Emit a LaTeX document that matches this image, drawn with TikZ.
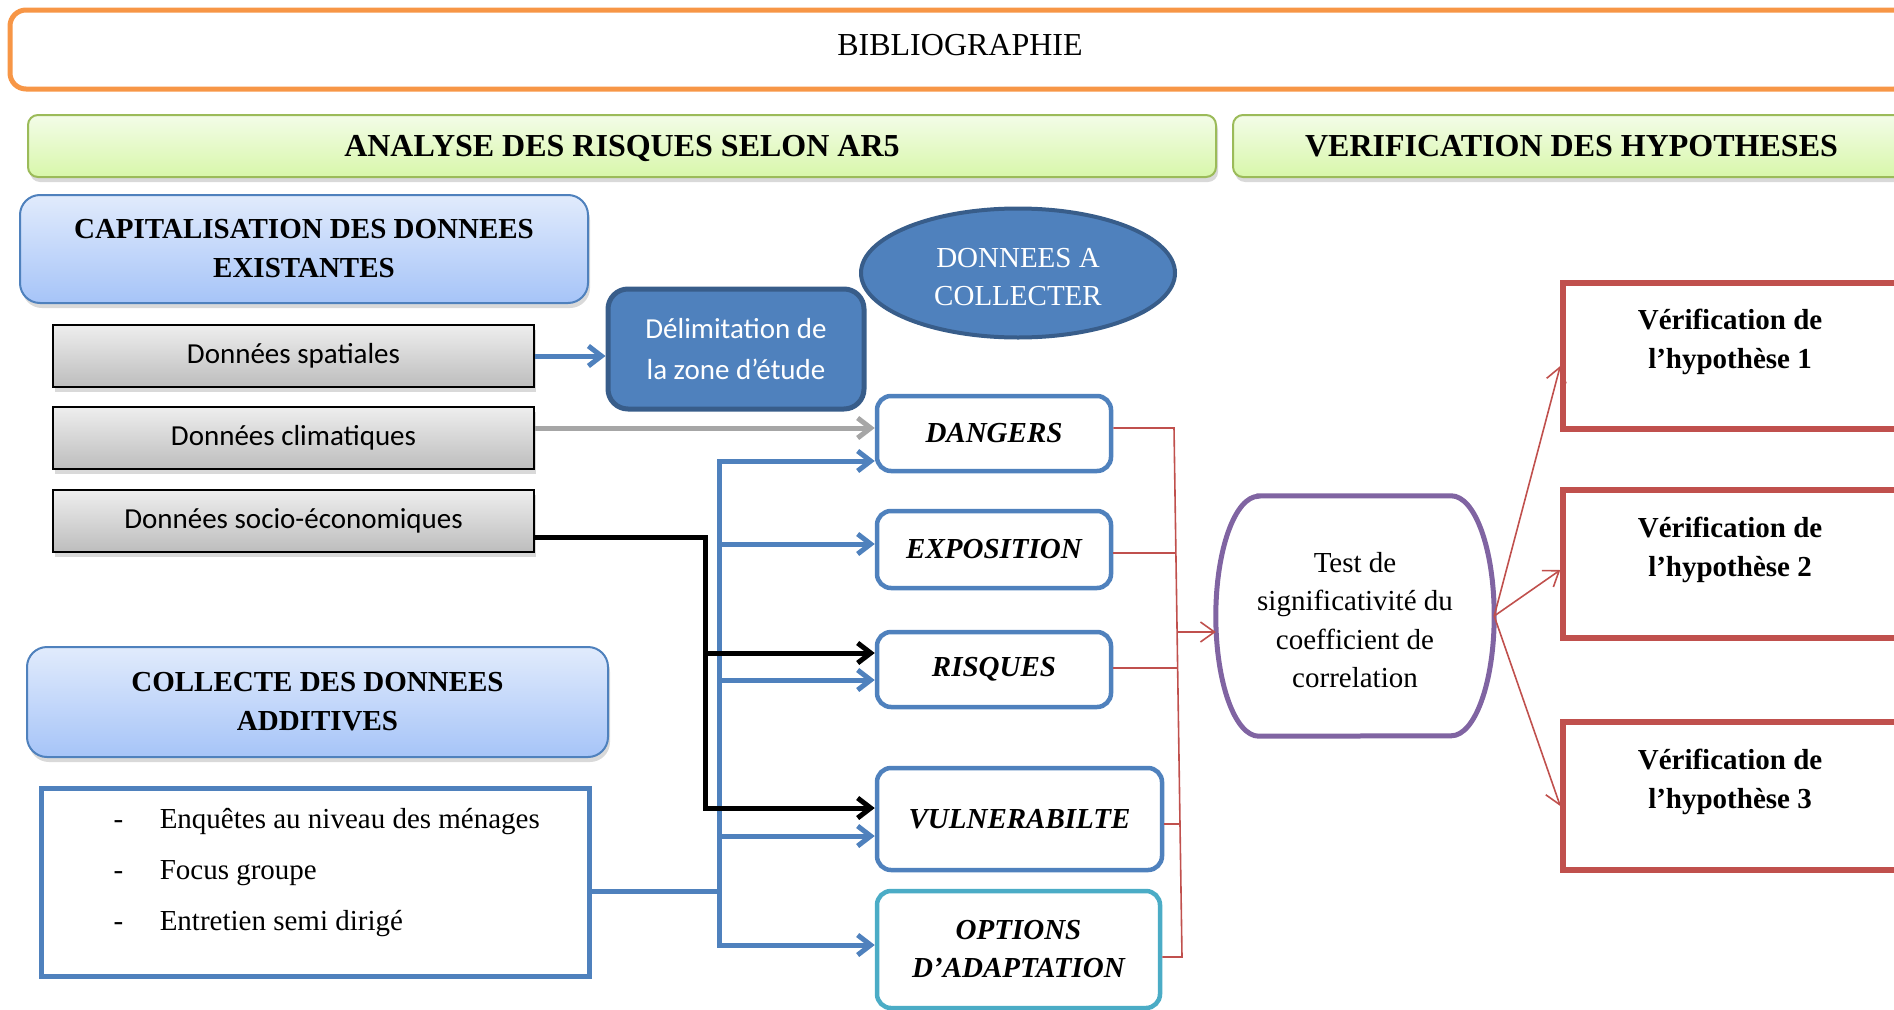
\documentclass[tikz,border=0pt]{standalone}
\usepackage{fontspec}
\setmainfont{Liberation Serif}
\newfontfamily\calibrifont{Carlito}
\usetikzlibrary{arrows.meta,shapes.geometric,shadows}

\definecolor{accblue}{HTML}{4F81BD}
\definecolor{darkblue}{HTML}{385D8A}
\definecolor{accorange}{HTML}{F79646}
\definecolor{accgreen}{HTML}{9BBB59}
\definecolor{accred}{HTML}{C0504D}
\definecolor{accpurple}{HTML}{8064A2}
\definecolor{acccyan}{HTML}{4BACC6}
\definecolor{grline}{HTML}{A6A6A6}
\definecolor{greentop}{HTML}{F3FCE8}
\definecolor{greenbot}{HTML}{D8F7AA}
\definecolor{bluetop}{HTML}{E1EBFC}
\definecolor{bluebot}{HTML}{A6C4F8}
\definecolor{graytop}{HTML}{EEEEEE}
\definecolor{graybot}{HTML}{BDBDBD}

\tikzset{
  softshadow/.style={drop shadow={shadow xshift=2pt, shadow yshift=-5pt, opacity=0.3}},
  bibbox/.style={draw=accorange, line width=5pt, rounded corners=16pt, fill=white,
    text height=21pt, text depth=9pt, font=\fontsize{32}{38}\selectfont},
  greenhead/.style={draw=accgreen, line width=2pt, rounded corners=10pt,
    top color=greentop, bottom color=greenbot, softshadow,
    text height=21pt, text depth=0pt, font=\bfseries\fontsize{32}{38}\selectfont},
  bluehead/.style={draw=accblue, line width=2pt, rounded corners=20pt,
    top color=bluetop, bottom color=bluebot, softshadow, align=center,
    font=\bfseries\fontsize{29}{39}\selectfont},
  graybox/.style={draw=black, line width=2.5pt, top color=graytop, bottom color=graybot,
    softshadow, font=\calibrifont\fontsize{29}{35}\selectfont},
  delimbox/.style={draw=darkblue, line width=5pt, fill=accblue, rounded corners=20pt,
    text=white, align=center, font=\calibrifont\fontsize{29}{41}\selectfont},
  collectbox/.style={ellipse, draw=darkblue, line width=4pt, fill=accblue, inner sep=0pt},
  collecttext/.style={text=white, align=center, font=\fontsize{29}{38}\selectfont},
  compbox/.style={draw=accblue, line width=4.5pt, rounded corners=14pt, fill=white,
    align=center, font=\bfseries\itshape\fontsize{29}{38}\selectfont},
  hypbox/.style={draw=accred, line width=5.5pt, fill=white},
  hyptext/.style={align=center, font=\bfseries\fontsize{29}{39}\selectfont},
  listbox/.style={draw=accblue, line width=5pt, fill=white},
  listtext/.style={font=\fontsize{29}{34}\selectfont\renewcommand\arraystretch{1.5}},
  testtext/.style={align=center, font=\fontsize{29}{38.5}\selectfont},
  bluearrow/.style={draw=accblue, line width=5pt, -{Straight Barb[length=13pt,width=20pt]}},
  blueline/.style={draw=accblue, line width=5pt},
  blackarrow/.style={draw=black, line width=5pt, -{Straight Barb[length=13pt,width=20pt]}},
  grayarrow/.style={draw=grline, line width=5pt, -{Straight Barb[length=13pt,width=20pt]}},
  redline/.style={draw=accred, line width=1.6pt},
  redarrow/.style={draw=accred, line width=1.6pt, -{Straight Barb[length=14pt,width=20pt]}},
}

\begin{document}
\begin{tikzpicture}[x=1pt,y=-1pt]
\useasboundingbox (0,0) rectangle (1894,1009);
\clip (0,0) rectangle (1894,1009);

% headers
\node[bibbox, minimum width=1900pt, minimum height=79pt] (bib) at (960,49.5) {BIBLIOGRAPHIE};
\node[greenhead, minimum width=1188pt, minimum height=62pt] (analyse) at (622,146) {ANALYSE DES RISQUES SELON AR5};
\node[greenhead, minimum width=677pt, minimum height=62pt] (verif) at (1571.5,146) {VERIFICATION DES HYPOTHESES};

% existing data
\node[bluehead, minimum width=568pt, minimum height=108pt] (capital) at (304,249)
  {CAPITALISATION DES DONNEES\\EXISTANTES};
\node[graybox, minimum width=481pt, minimum height=62pt] (spatial) at (293.5,356) {Données spatiales};
\node[graybox, minimum width=481pt, minimum height=62pt] (clim) at (293.5,438) {Données climatiques};
\node[graybox, minimum width=481pt, minimum height=62pt] (socio) at (293.5,521) {Données socio-économiques};

\node[delimbox, minimum width=256pt, minimum height=120pt] (delim) at (736,349)
  {Délimitation de\\la zone d’étude};
\node[collectbox, minimum width=314pt, minimum height=129pt,
  label={[collecttext, yshift=-4pt]center:{DONNEES A\\COLLECTER}}] (collect) at (1018,273) {};

% additional data
\node[bluehead, minimum width=581pt, minimum height=110pt] (additive) at (317.5,702)
  {COLLECTE DES DONNEES\\ADDITIVES};
\node[listbox, minimum width=548pt, minimum height=188pt,
  label={[listtext, xshift=11.75pt, yshift=13pt]center:{\begin{tabular}{@{}l@{\hspace{36.5pt}}l@{}}
  -&Enquêtes au niveau des ménages\\
  -&Focus groupe\\
  -&Entretien semi dirigé
  \end{tabular}}}] (list) at (315,882) {};

% risk components
\node[compbox, minimum width=234pt, minimum height=75pt] (dangers) at (994,433.5) {DANGERS};
\node[compbox, minimum width=234pt, minimum height=77pt] (expo) at (994,549.5) {EXPOSITION};
\node[compbox, minimum width=234pt, minimum height=75pt] (risq) at (994,669.5) {RISQUES};
\node[compbox, minimum width=285pt, minimum height=102pt] (vuln) at (1019.5,819) {VULNERABILTE};
\node[compbox, draw=acccyan, minimum width=283pt, minimum height=117pt] (options) at (1018.5,949.5)
  {OPTIONS\\D’ADAPTATION};

% significance test: box with half-elliptic sides
\node[minimum width=278pt, minimum height=240pt, inner sep=0pt,
  label={[testtext, yshift=-4pt]center:{Test de\\significativité du\\coefficient de\\correlation}}]
  (test) at (1355,616) {};
\draw[accpurple, line width=5pt]
  ([xshift=43pt]test.north west) -- ([xshift=-43pt]test.north east)
  arc[start angle=90, end angle=-90, x radius=43pt, y radius=120pt]
  -- ([xshift=43pt]test.south west)
  arc[start angle=270, end angle=90, x radius=43pt, y radius=120pt] -- cycle;

% hypotheses
\node[hypbox, minimum width=347pt, minimum height=146pt,
  label={[hyptext, xshift=-6.5pt, yshift=14pt]center:{Vérification de\\l’hypothèse 1}}] (h1) at (1736.5,356) {};
\node[hypbox, minimum width=347pt, minimum height=148pt,
  label={[hyptext, xshift=-6.5pt, yshift=14pt]center:{Vérification de\\l’hypothèse 2}}] (h2) at (1736.5,564) {};
\node[hypbox, minimum width=347pt, minimum height=148pt,
  label={[hyptext, xshift=-6.5pt, yshift=14pt]center:{Vérification de\\l’hypothèse 3}}] (h3) at (1736.5,796) {};

% junction points of the connectors
\coordinate (tb1) at (719,461);
\coordinate (tb2) at (719,544);
\coordinate (tb3) at (719,680);
\coordinate (tb4) at (719,836);
\coordinate (tb5) at (719,945);
\coordinate (tl) at (719,891);
\coordinate (bk1) at (705,537);
\coordinate (bk2) at (705,653);
\coordinate (bk3) at (705,808);
\coordinate (gr) at (534,428);
\coordinate (j1) at (1174,428);
\coordinate (j2) at (1176,553);
\coordinate (j3) at (1177.6,668);
\coordinate (j4) at (1180,824);
\coordinate (j5) at (1182,957);
\coordinate (jm) at (1178,632);

% data flows
\draw[bluearrow] (spatial.east) -- (delim.west |- spatial.east);
\draw[grayarrow] (clim.east |- gr) -- (gr -| dangers.west);
\draw[blueline] (list.east |- tl) -- (tl);
\draw[draw=accblue, line width=5pt, {Straight Barb[length=13pt,width=20pt]}-{Straight Barb[length=13pt,width=20pt]}]
  (tb5 -| options.west) -- (tb5) -- (tb1) -- (tb1 -| dangers.west);
\draw[bluearrow] (tb2) -- (tb2 -| expo.west);
\draw[bluearrow] (tb3) -- (tb3 -| risq.west);
\draw[bluearrow] (tb4) -- (tb4 -| vuln.west);
\draw[blackarrow] (socio.east |- bk1) -- (bk1) -- (bk3) -- (bk3 -| vuln.west);
\draw[blackarrow] (bk2) -- (bk2 -| risq.west);

% towards the test
\draw[redline] (dangers.east |- j1) -- (j1) -- (j5) -- (j5 -| options.east);
\draw[redline] (expo.east |- j2) -- (j2);
\draw[redline] (risq.east |- j3) -- (j3);
\draw[redline] (vuln.east |- j4) -- (j4);
\draw[redarrow] (jm) -- (test.west |- jm);

% towards the hypotheses
\draw[redarrow] (test.east) -- ([yshift=-10pt]h1.west);
\draw[redarrow] (test.east) -- ([yshift=-6pt]h2.west);
\draw[redarrow] (test.east) -- ([yshift=-10pt]h3.west);
\end{tikzpicture}
\end{document}
